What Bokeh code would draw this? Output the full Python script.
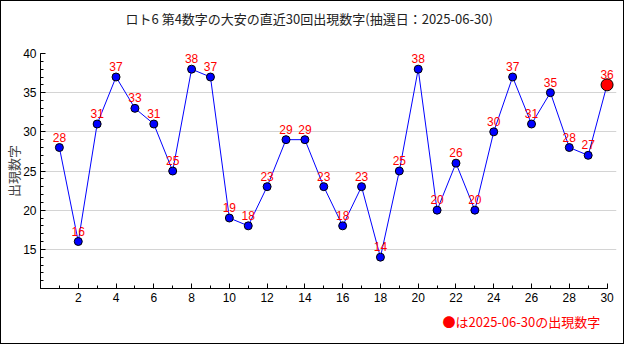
from bokeh.plotting import figure
from bokeh.models import ColumnDataSource, FixedTicker, Range1d, LabelSet, Title
from bokeh.embed import file_html
from bokeh.resources import INLINE
from bokeh.core.properties import value

title_text = "ロト6 第4数字の大安の直近30回出現数字(抽選日：2025-06-30)"
y_label = "出現数字"
note_text = "●は2025-06-30の出現数字"
draws = list(range(1, 31))
numbers = [28, 16, 31, 37, 33, 31, 25, 38, 37, 19, 18, 23, 29, 29, 23,
           18, 23, 14, 25, 38, 20, 26, 20, 30, 37, 31, 35, 28, 27, 36]
x_ticks = list(range(2, 31, 2))
x_minor = list(range(0, 31))
y_ticks = [15, 20, 25, 30, 35, 40]
y_minor = list(range(10, 41))

JP = "Noto Sans CJK JP"
SANS = "Liberation Sans"

src = ColumnDataSource(dict(x=draws, y=numbers, t=[str(v) for v in numbers]))
last = ColumnDataSource(dict(x=draws[-1:], y=numbers[-1:]))

p = figure(width=624, height=344, output_backend="svg", toolbar_location=None,
           x_range=Range1d(0, 30.5), y_range=Range1d(10, 40),
           min_border_left=39, min_border_right=9, min_border_top=48,
           min_border_bottom=57)
p.styles = {"border": "1px solid black", "box-sizing": "border-box"}
p.outline_line_color = None
p.xgrid.visible = False
p.ygrid.ticker = FixedTicker(ticks=y_ticks)
p.ygrid.grid_line_color = "#d4d4d4"

p.title.text = title_text
p.title.align = "left"
p.title.offset = 85
p.title.text_font = JP
p.title.text_font_size = "13px"
p.title.text_font_style = "normal"
p.title.text_color = "#222222"

# empty spacer between the frame and the title, to lift the title to the top
spacer = Title(text=" ", text_font_size="8px")
p.add_layout(spacer, "above")

p.xaxis.ticker = FixedTicker(ticks=x_ticks, minor_ticks=x_minor)
p.xaxis.bounds = (0, 30)
p.yaxis.ticker = FixedTicker(ticks=y_ticks, minor_ticks=y_minor)
p.yaxis.bounds = (10, 40)
for ax in (p.xaxis[0], p.yaxis[0]):
    ax.major_tick_in = 5
    ax.major_tick_out = 0
    ax.minor_tick_in = 3
    ax.minor_tick_out = 0
    ax.axis_line_color = "black"
    ax.major_tick_line_color = "black"
    ax.minor_tick_line_color = "black"
    ax.major_label_text_font = SANS
    ax.major_label_text_font_size = "12px"
    ax.major_label_text_color = "black"
    ax.major_label_standoff = 4

p.yaxis.axis_label = y_label
p.yaxis.axis_label_text_font = JP
p.yaxis.axis_label_text_font_size = "13px"
p.yaxis.axis_label_text_font_style = "normal"
p.yaxis.axis_label_standoff = -3

p.line("x", "y", source=src, line_color="#0000ff", line_width=1)
p.scatter("x", "y", source=src, size=8, fill_color="#0000ff", line_color="black")
p.scatter("x", "y", source=last, size=12, fill_color="#ff0000", line_color="black")

labels = LabelSet(x="x", y="y", text="t", source=src, y_offset=6,
                  text_align="center", text_baseline="alphabetic",
                  text_color="#ff0000", text_font=value(SANS),
                  text_font_size="12px")
p.add_layout(labels)

note = Title(text=note_text, align="left", offset=402, text_font=JP,
             text_font_size="13px", text_font_style="normal",
             text_color="#ff0000")
p.add_layout(note, "below")

open("out.html", "w").write(file_html(p, INLINE))
